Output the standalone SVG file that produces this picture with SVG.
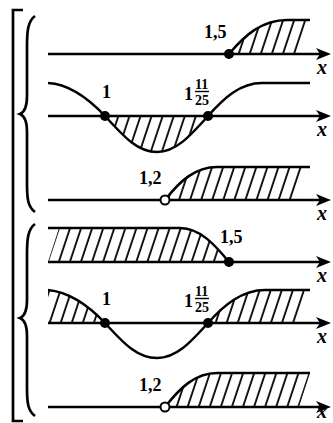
<svg xmlns="http://www.w3.org/2000/svg" width="333" height="423" viewBox="0 0 333 423">
<style>
.ax{stroke:#000;stroke-width:2.5;fill:none}
.cv{stroke:#000;stroke-width:2.5;fill:none}
.br{stroke:#000;stroke-width:2.7;fill:none;stroke-linecap:butt}
.lb{font-family:"Liberation Serif",serif;font-weight:bold;font-size:18px;fill:#000}
.fr{font-family:"Liberation Serif",serif;font-weight:bold;font-size:14px;fill:#000}
.xl{font-family:"Liberation Serif",serif;font-weight:bold;font-style:italic;font-size:20px;fill:#000}
.dot{fill:#000}
.od{fill:#fff;stroke:#000;stroke-width:2}
</style>
<defs>
<pattern id="h" width="10.5" height="40" patternUnits="userSpaceOnUse" patternTransform="rotate(18.4)">
<line x1="2" y1="-5" x2="2" y2="45" stroke="#000" stroke-width="1.8"/>
</pattern>
<path id="arr" d="M0,0 L-15,-6 L-11,0 L-15,6 Z" fill="#000"/>
</defs>
<rect width="333" height="423" fill="#fff"/>
<g id="bracket">
<path class="br" d="M23,10 L13,10 L13,421 L23,421"/>
<path class="br" d="M35,16 C28,21 27,31 27,46 L27,96 C27,106 25,112 20,114 C25,116 27,122 27,132 L27,184 C27,199 28,207 35,212"/>
<path class="br" d="M35,224 C28,229 27,239 27,254 L27,300 C27,310 25,316 20,318 C25,320 27,326 27,336 L27,388 C27,403 28,411 35,416"/>
</g>
<g id="hatch">
<path fill="url(#h)" d="M229,54 C245,35 262,20 287,20 L310,20 L299,54 Z"/>
<path fill="url(#h)" d="M105,116 C125,138 138,152 157,152 C176,152 190,136 208,116 Z"/>
<path fill="url(#h)" d="M165,200 C180,181 195,167 217,167 L310,167 L299,200 Z"/>
<path fill="url(#h)" d="M59,228 L180,228 C200,228 215,245 229,262 L48,262 Z"/>
<path fill="url(#h)" d="M48,290 C68,292 88,305 105,323 L48,323 Z"/>
<path fill="url(#h)" d="M208,323 C224,305 242,290 265,290 L310,290 L299,323 Z"/>
<path fill="url(#h)" d="M165,407 C180,388 195,373 217,373 L310,373 L299,407 Z"/>
</g>
<g id="connectors">
<path class="ax" d="M48,54 H322"/><use href="#arr" x="331" y="54"/>
<path class="ax" d="M48,116 H322"/><use href="#arr" x="331" y="116"/>
<path class="ax" d="M48,200 H322"/><use href="#arr" x="331" y="200"/>
<path class="ax" d="M48,262 H322"/><use href="#arr" x="331" y="262"/>
<path class="ax" d="M48,323 H322"/><use href="#arr" x="331" y="323"/>
<path class="ax" d="M48,407 H322"/><use href="#arr" x="331" y="407"/>
<path class="cv" d="M229,54 C245,35 262,20 287,20 L310,20"/>
<path class="cv" d="M48,83 C68,84 88,98 105,116 C125,138 138,152 157,152 C176,152 190,136 208,116 C224,98 240,83 262,83 L310,83"/>
<path class="cv" d="M165,200 C180,181 195,167 217,167 L310,167"/>
<path class="cv" d="M48,228 L180,228 C200,228 215,245 229,262"/>
<path class="cv" d="M48,290 C68,292 88,305 105,323 C125,345 138,358 157,358 C176,358 190,343 208,323 C224,305 242,290 265,290 L310,290"/>
<path class="cv" d="M165,407 C180,388 195,373 217,373 L310,373"/>
</g>
<g id="n1">
<circle class="dot" cx="229" cy="54" r="5"/>
<text class="lb" x="204" y="38">1,5</text>
<text class="xl" x="317" y="74">x</text>
</g>
<g id="n2">
<circle class="dot" cx="105" cy="116" r="5"/>
<circle class="dot" cx="208" cy="116" r="5"/>
<text class="lb" x="102" y="98">1</text>
<text class="lb" x="184" y="100">1</text>
<text class="fr" x="195" y="89">11</text>
<line x1="195" y1="91.5" x2="209" y2="91.5" stroke="#000" stroke-width="1.4"/>
<text class="fr" x="195" y="105">25</text>
<text class="xl" x="317" y="136">x</text>
</g>
<g id="n3">
<circle class="od" cx="165" cy="200" r="4.5"/>
<text class="lb" x="139" y="184">1,2</text>
<text class="xl" x="317" y="220">x</text>
</g>
<g id="n4">
<circle class="dot" cx="229" cy="262" r="5"/>
<text class="lb" x="220" y="243">1,5</text>
<text class="xl" x="317" y="282">x</text>
</g>
<g id="n5">
<circle class="dot" cx="105" cy="323" r="5"/>
<circle class="dot" cx="208" cy="323" r="5"/>
<text class="lb" x="102" y="305">1</text>
<text class="lb" x="184" y="307">1</text>
<text class="fr" x="195" y="296">11</text>
<line x1="195" y1="298.5" x2="209" y2="298.5" stroke="#000" stroke-width="1.4"/>
<text class="fr" x="195" y="312">25</text>
<text class="xl" x="317" y="343">x</text>
</g>
<g id="n6">
<circle class="od" cx="165" cy="407" r="4.5"/>
<text class="lb" x="139" y="391">1,2</text>
<text class="xl" x="317" y="418">x</text>
</g>
</svg>
